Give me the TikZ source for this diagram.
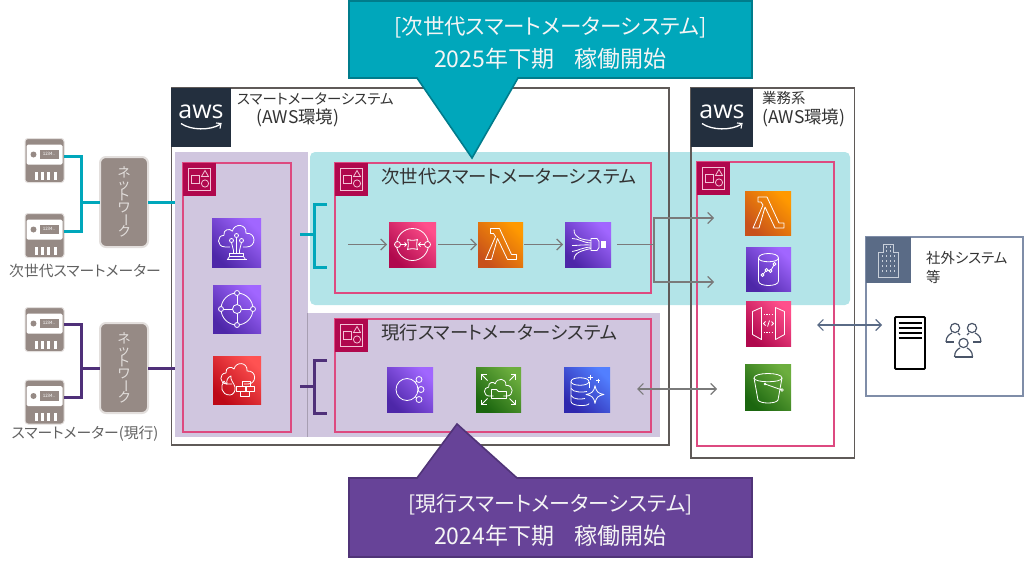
\documentclass[tikz,border=0pt]{standalone}
\usepackage{fontspec}
\setmainfont[RawFeature={+palt}]{Noto Sans CJK JP}
\newfontfamily\awsfont{Open Sans}
\usetikzlibrary{arrows.meta}
\definecolor{tealA}{HTML}{00A7BB}
\definecolor{tealB}{HTML}{007C8C}
\definecolor{tealP}{HTML}{B3E4E8}
\definecolor{purA}{HTML}{674398}
\definecolor{purB}{HTML}{503478}
\definecolor{purL}{HTML}{4F3079}
\definecolor{lav}{HTML}{D0C6DF}
\definecolor{pinkL}{HTML}{DD4A80}
\definecolor{pinkB}{HTML}{B0084D}
\definecolor{greyN}{HTML}{968A85}
\definecolor{greyE}{HTML}{E3DFDD}
\definecolor{conn}{HTML}{7A7A7A}
\definecolor{boxL}{HTML}{5F5A58}
\definecolor{awsD}{HTML}{232F3E}
\definecolor{slateB}{HTML}{7F8DA8}
\definecolor{slateH}{HTML}{5A6B86}
\definecolor{txt}{HTML}{333333}
\definecolor{vioD}{HTML}{4D27A8}\definecolor{vioL}{HTML}{A166FF}\definecolor{vioM}{HTML}{7248CC}
\definecolor{mgD}{HTML}{B0084D}\definecolor{mgL}{HTML}{FF4F8B}\definecolor{mgM}{HTML}{D62B6B}
\definecolor{orD}{HTML}{C8511B}\definecolor{orL}{HTML}{FF9900}
\definecolor{grD}{HTML}{1B660F}\definecolor{grL}{HTML}{6CAE3E}
\definecolor{rdD}{HTML}{BD0816}\definecolor{rdL}{HTML}{FF5252}
\definecolor{blD}{HTML}{2E27AD}\definecolor{blL}{HTML}{527FFF}
\definecolor{bdL}{HTML}{F3C3D6}
\definecolor{bldL}{HTML}{C8CFDA}
\definecolor{pplC}{HTML}{4A5568}
\newcommand\netlabel{ネ\\[-2.6pt]ッ\\[-2.6pt]ト\\[-2.6pt]ワ\\[-2.6pt]\rotatebox[origin=c]{-90}{ー}\\[-2.6pt]ク}
\tikzset{
  rectn/.style={rectangle,inner sep=0pt,outer sep=0pt},
  icn/.style={rectangle,inner sep=0pt,outer sep=0pt,shade},
  pinkbox/.style={rectn,draw=pinkL,line width=1.4pt},
  awsbox/.style={rectn,draw=boxL,line width=1.2pt},
  netbox/.style={rectn,rounded corners=6pt,fill=greyN,draw=greyE,line width=2pt},
  nettxt/.style={inner sep=0pt,text=greyE,align=center,font=\fontsize{13.5}{14}\selectfont},
  meterbg/.style={rectn,rounded corners=3pt,fill=greyN,draw=greyE,line width=1pt},
  wire/.style={line width=3pt},
  arr/.style={conn,line width=1.2pt,-{Straight Barb[length=5.5pt,width=11pt]}},
  arrb/.style={conn,line width=1.2pt,{Straight Barb[length=5.5pt,width=11pt]}-{Straight Barb[length=5.5pt,width=11pt]}},
  lbl/.style={inner sep=0pt,text=txt,font=\fontsize{14.4}{16}\selectfont},
  lblb/.style={inner sep=0pt,text=txt,font=\fontsize{17.5}{16}\selectfont},
  title/.style={inner sep=0pt,text=txt,font=\fontsize{18.4}{20}\selectfont},
  mlbl/.style={inner sep=0pt,text=black!62,font=\fontsize{14.8}{16}\selectfont},
  call/.style={inner sep=0pt,text=white!96!black,align=center,font=\fontsize{23}{33}\selectfont},
  gl/.style={color=white,line width=.8pt,line join=round},
  bd/.style={color=bdL,line width=.8pt},
}
% rectangle node from corners: style, name, x1,y1,x2,y2
\newcommand\rbox[6]{%
  \pgfmathsetmacro\rcx{(#3+#5)/2}\pgfmathsetmacro\rcy{(#4+#6)/2}%
  \pgfmathsetmacro\rw{#5-#3}\pgfmathsetmacro\rh{#6-#4}%
  \node[#1,minimum width=\rw pt,minimum height=\rh pt] (#2) at (\rcx,\rcy) {};}
% icon: name, x1,y1,x2,y2, dark, light, glyph
\newcommand\icon[8]{%
  \rbox{icn,bottom color=#6,top color=#7,shading angle=-45}{#1}{#2}{#3}{#4}{#5}%
  \begin{scope}[shift={(#1.center)},gl]#8\end{scope}}
\newcommand\badge[3]{%
  \rbox{rectn,fill=pinkB}{#1}{#2}{#3}{#2+33}{#3+33}%
  \begin{scope}[shift={(#1.center)},bd]
    \draw (-11,-11) rectangle (11,11);
    \draw (-8,-4) rectangle (0,4);
    \draw (2,-3) -- (5.5,-9) -- (9,-3) -- cycle;
    \draw (5.5,4) circle[radius=3.6];
  \end{scope}}
\newcommand\cloudP{(-6,8) -- (-11,8) .. controls (-19,8) and (-19,-3) .. (-12,-3) .. controls (-13,-9) and (-6,-10) .. (-4,-7) .. controls (-2,-15) and (10,-14) .. (9,-5) .. controls (19,-6) and (19,8) .. (10,8) -- (6,8)}
\newcommand\awslogo[3]{%
  \rbox{rectn,fill=awsD}{#1}{#2}{88}{#3}{147}%
  \node[inner sep=0pt,text=white,font=\fontsize{25}{25}\awsfont\selectfont] (#1t) at ([yshift=6pt]#1.center) {aws};
  \begin{scope}[shift={(#1.center)}]
    \draw[white,line width=1.3pt] (-20,6) .. controls (-10,13) and (9,13) .. (19,7);
    \draw[white,line width=1.1pt] (15,5.5) -- (20,6) -- (19,11);
  \end{scope}}
\newcommand\meter[3]{%
  \node[meterbg,minimum width=39pt,minimum height=44pt] (#1) at (#2,#3) {};
  \begin{scope}[shift={(#1.center)}]
    \fill[white,rounded corners=1.5pt] (-18,-16) rectangle (18,4);
    \fill[greyN] (-11,-6) circle[radius=3];
    \fill[greyN] (-5,-11) rectangle (14,-1.5);
    \node[inner sep=0pt,text=white,font=\fontsize{4.5}{4.5}\selectfont] (#1n) at (4.5,-6.2) {1234..};
    \foreach \bx in {-8,-2,4,11} \fill[white] (\bx-1.6,11) rectangle (\bx+1.6,19);
  \end{scope}}
\newcommand\gLambda{\draw (-10,-16) -- (-1,-16) -- (11,10) -- (16,10) -- (16,15) -- (7,15) -- (-3,-6) -- (-9,15) -- (-15,15) -- (-5,-8) -- (-7,-11) -- (-10,-11) -- cycle;}
\newcommand\gIot{\begin{scope}[shift={(0,-4)},scale=1.05]\draw \cloudP;\end{scope}
  \draw (-5,-2) circle[radius=2]; \draw (0,-7) circle[radius=2]; \draw (5,-2) circle[radius=2];
  \draw (-5,0) -- (-3,8) -- (-3,11); \draw (0,-5) -- (0,11); \draw (5,0) -- (3,8) -- (3,11);
  \draw (-7,11) rectangle (7,14); \draw (-9,17) -- (-7,14); \draw (9,17) -- (7,14); \draw (-10,17) -- (10,17);}
\newcommand\gMesh{\draw (0,0) circle[radius=16];
  \foreach \dx/\dy in {0/-16,0/16,-16/0,16/0}{\draw (0,0) -- (\dx,\dy); \filldraw[fill=vioM] (\dx,\dy) circle[radius=2.5];}
  \filldraw[fill=vioM] (0,0) circle[radius=4.5];}
\newcommand\gFire{\begin{scope}[shift={(1,-4)}]\draw \cloudP;\end{scope}
  \draw (-7,15) .. controls (-16,15) and (-17,6) .. (-13,1) .. controls (-12,4) and (-10,4) .. (-10,4) .. controls (-11,0) and (-9,-3) .. (-6,-4) .. controls (-7,0) and (-3,3) .. (-2,7) .. controls (-1,11) and (-4,15) .. (-7,15);
  \draw (5,1) rectangle (13,6); \draw (-1,6) rectangle (8,11); \draw (9,6) rectangle (17,11); \draw (3,11) rectangle (12,16);}
\newcommand\gSqs{\draw (0,0) circle[radius=16];
  \draw (-5,-5) .. controls (-3,-4) and (3,-4) .. (5,-5) .. controls (4,-3) and (4,3) .. (5,5) .. controls (3,4) and (-3,4) .. (-5,5) .. controls (-4,3) and (-4,-3) .. (-5,-5);
  \filldraw[fill=mgM] (-15,0) circle[radius=3]; \filldraw[fill=mgM] (15,0) circle[radius=3];
  \draw (-12,0) -- (-6,0); \draw (12,0) -- (6,0); \draw (-8,-2) -- (-6,0) -- (-8,2); \draw (8,-2) -- (6,0) -- (8,2);}
\newcommand\gHose{\draw (3,-6) -- (9,-6) -- (11,-3) -- (11,3) -- (9,6) -- (3,6) -- cycle;
  \fill (13,-3.5) rectangle (18,3.5);
  \draw (-14,-15) .. controls (-14,-6) and (-6,-5) .. (3,-4);
  \draw (-16,-6) .. controls (-9,-6) and (-6,-2) .. (3,-1.5);
  \draw (-16,1) .. controls (-9,1) and (-6,0) .. (3,0.5);
  \draw (-16,7) .. controls (-9,6) and (-6,3) .. (3,2.5);
  \draw (-14,15) .. controls (-14,8) and (-6,6) .. (3,4);}
\newcommand\gSns{\draw (-3,0) circle[radius=11];
  \draw (5,-7) -- (7,-8.5); \draw (5,7) -- (7,8.5);
  \draw (9,-10) circle[radius=3]; \draw (11,0) circle[radius=3]; \draw (9,10) circle[radius=3];}
\newcommand\gEfs{\begin{scope}[scale=.82]\draw \cloudP;\end{scope}
  \draw (-7,9) -- (-7,0) -- (-2,0) -- (0,2) -- (8,2) -- (8,9) -- cycle;
  \foreach \sx/\sy in {1/1,-1/1,1/-1,-1/-1}{
    \draw (\sx*11,\sy*9) -- (\sx*17,\sy*15);
    \draw (\sx*17,\sy*10) -- (\sx*17,\sy*15) -- (\sx*12,\sy*15);}}
\newcommand\gAurora{\draw (-16,-8) .. controls (-16,-13) and (2,-13) .. (2,-8) .. controls (2,-3) and (-16,-3) .. (-16,-8);
  \draw (-16,-8) -- (-16,12) .. controls (-16,17) and (2,17) .. (2,14);
  \draw (2,-8) -- (2,-2);
  \draw (-16,-1) .. controls (-14,3) and (-4,3) .. (0,2);
  \draw (-16,6) .. controls (-14,10) and (-6,10) .. (-2,9);
  \draw (8,-4) .. controls (9,2) and (11,4) .. (17,5) .. controls (11,6) and (9,8) .. (8,14) .. controls (7,8) and (5,6) .. (-1,5) .. controls (5,4) and (7,2) .. (8,-4);
  \draw (3,-15) -- (3,-10); \draw (0.5,-12.5) -- (5.5,-12.5);
  \draw (11,-11) -- (11,-7); \draw (9,-9) -- (13,-9);}
\newcommand\gStream{\draw (-10,-11) .. controls (-10,-17) and (10,-17) .. (10,-11) .. controls (10,-6) and (-10,-6) .. (-10,-11);
  \draw (-10,-11) -- (-10,12) .. controls (-10,18) and (10,18) .. (10,12) -- (10,-11);
  \draw (-6,6) -- (-2,1) -- (2,2) -- (6,-5);
  \foreach \px/\py in {-6/6,-2/1,2/2,6/-5}{\filldraw[fill=vioM] (\px,\py) circle[radius=1.5];}}
\newcommand\gApi{\draw (-16,-12) -- (-7,-16) -- (-7,16) -- (-16,11) -- cycle;
  \draw (16,-12) -- (7,-16) -- (7,16) -- (16,11) -- cycle;
  \draw[dash pattern=on 1.5pt off 1.2pt] (-5,-9) -- (5,-9); \draw[dash pattern=on 1.5pt off 1.2pt] (-5,9) -- (5,9);
  \draw (-3,-2) -- (-5,0) -- (-3,2); \draw (3,-2) -- (5,0) -- (3,2); \draw (-1,3) -- (1,-3);}
\newcommand\gBucket{\draw (-14,-9) .. controls (-14,-15) and (14,-15) .. (14,-9) .. controls (14,-4) and (-14,-4) .. (-14,-9);
  \draw (-14,-9) -- (-10,13) .. controls (-8,17) and (8,17) .. (10,13) -- (14,-9);
  \fill (-3,-3) circle[radius=1.4]; \draw (-3,-3) -- (14,3); \draw (14,3) circle[radius=1.4];}
\begin{document}
\begin{tikzpicture}[x=1pt,y=-1pt]
\useasboundingbox (0,0) rectangle (1024,565);
% panels
\rbox{rectn,fill=lav}{pL}{175}{152}{308}{437}
\rbox{rectn,fill=lav}{pC}{307}{313}{660}{437}
\draw[lav!80!black,line width=.6pt] (307.5,313) -- (307.5,437);
\rbox{rectn,fill=tealP,rounded corners=5pt}{pN}{310}{152}{850}{305}
% aws boxes
\rbox{awsbox}{b1}{171.5}{88}{669}{445}
\rbox{awsbox}{b2}{691}{88}{854.5}{458}
\rbox{rectn,draw=slateB,line width=1.4pt,fill=white}{b3}{866}{237}{1023}{396}
\rbox{rectn,fill=slateH}{b3h}{866}{237}{911}{283}
\begin{scope}[shift={(b3h.center)},color=bldL,line width=.8pt]
  \draw (-10,17) -- (-10,-8) -- (-5,-8) -- (-5,-16) -- (5,-16) -- (5,-8) -- (10,-8) -- (10,17) -- cycle;
  \foreach \wx in {-6,-2,2,6}{\foreach \wy in {-4,1,6,11}{\fill (\wx-.7,\wy-1) rectangle (\wx+.7,\wy+1);}}
  \foreach \wx in {-2,2}{\foreach \wy in {-13,-9}{\fill (\wx-.7,\wy-1) rectangle (\wx+.7,\wy+1);}}
\end{scope}
\node[lbl,anchor=west] (t7) at (926,258) {社外システム};
\node[lbl,anchor=west] (t8) at (926,277) {等};
\awslogo{a1}{171}{231}
\awslogo{a2}{691}{753}
\node[lbl,anchor=west] (t1) at (237,98.5) {スマートメーターシステム};
\node[lblb,anchor=west] (t2) at (256,117.5) {(AWS環境)};
\node[lbl,anchor=west] (t3) at (762,98.5) {業務系};
\node[lblb,anchor=west] (t4) at (762,117.5) {(AWS環境)};
% pink groups
\rbox{pinkbox}{g1}{183}{163}{291}{432}
\rbox{pinkbox}{g2}{335}{163}{651}{293}
\rbox{pinkbox}{g3}{335}{319}{651}{432}
\rbox{pinkbox}{g4}{697}{162}{834}{446}
\badge{k1}{183}{163}
\badge{k2}{335}{163}
\badge{k3}{335}{319}
\badge{k4}{697}{162}
\node[title,anchor=west] (t5) at (381,177) {次世代スマートメーターシステム};
\node[title,anchor=west] (t6) at (381,333) {現行スマートメーターシステム};
% meters and networks
\meter{m1}{44.5}{160.5}
\meter{m2}{44.5}{235.5}
\meter{m3}{44.5}{329.5}
\meter{m4}{44.5}{402}
\node[mlbl] (l1) at (85,271) {次世代スマートメーター};
\node[mlbl] (l2) at (85,434) {スマートメーター(現行)};
\rbox{netbox}{n1}{100}{157}{148}{247}
\node[nettxt] (n1t) at (n1.center) {\netlabel};
\rbox{netbox}{n2}{100}{323}{148}{413}
\node[nettxt] (n2t) at (n2.center) {\netlabel};
\coordinate (j1) at (81,202);
\coordinate (j2) at (81,368);
\coordinate (e1) at (175,202);
\coordinate (e2) at (175,368);
\draw[wire,tealA] ([yshift=4.5pt]m1.east) -| (j1) |- ([yshift=4.5pt]m2.east);
\draw[wire,tealA] (j1) -- (n1.west);
\draw[wire,tealA] (n1.east) -- (e1);
\draw[wire,purL] ([yshift=5.5pt]m3.east) -| (j2) |- ([yshift=5pt]m4.east);
\draw[wire,purL] (j2) -- (n2.west);
\draw[wire,purL] (n2.east) -- (e2);
% brackets
\coordinate (bt1) at (327,204); \coordinate (bt2) at (327,267); \coordinate (bts) at (300,234);
\coordinate (bp1) at (327,360); \coordinate (bp2) at (327,413); \coordinate (bps) at (300,386);
\draw[wire,tealA] (bt1) -- (314,204) -- (314,267) -- (bt2);
\draw[wire,tealA] (bts) -- (314,234);
\draw[wire,purL] (bp1) -- (314,360) -- (314,413) -- (bp2);
\draw[wire,purL] (bps) -- (314,386);
% icons
\icon{i1}{212}{218}{261}{267}{vioD}{vioL}{\gIot}
\icon{i2}{213}{285}{261}{333}{vioD}{vioL}{\gMesh}
\icon{i3}{213}{356}{261}{404}{rdD}{rdL}{\gFire}
\icon{i4}{389}{222}{436}{267}{mgD}{mgL}{\gSqs}
\icon{i5}{478}{222}{523}{267}{orD}{orL}{\gLambda}
\icon{i6}{565}{222}{611}{267}{vioD}{vioL}{\gHose}
\icon{i7}{387}{367}{433}{412}{vioD}{vioL}{\gSns}
\icon{i8}{476}{367}{521}{412}{grD}{grL}{\gEfs}
\icon{i9}{564}{367}{610}{412}{blD}{blL}{\gAurora}
\icon{i10}{745}{191}{791}{235}{orD}{orL}{\gLambda}
\icon{i11}{746}{247}{791}{291}{vioD}{vioL}{\gStream}
\icon{i12}{746}{301}{791}{346}{mgD}{mgL}{\gApi}
\icon{i13}{745}{364}{791}{410}{grD}{grL}{\gBucket}
% server and people
\rbox{rectn,draw=black,line width=1.8pt,fill=white,rounded corners=1pt}{srv}{895}{317}{925}{369}
\foreach \sy in {323,328,333,338}{\draw[black,line width=1.4pt] (898.5,\sy) -- (921.5,\sy);}
\begin{scope}[color=pplC,line width=1.2pt]
  \draw (955,328) circle[radius=4.6];
  \draw (972,328) circle[radius=4.6];
  \draw (946,342) .. controls (946,336) and (950,334) .. (952,333);
  \draw (981,342) .. controls (981,336) and (977,334) .. (975,333);
  \draw (946,342) -- (954,342); \draw (973,342) -- (981,342);
  \draw (958,333) -- (960,335); \draw (969,333) -- (967,335);
  \draw (963.5,343) circle[radius=4.6];
  \draw (954.5,357) .. controls (954.5,351) and (958,349) .. (960,348) ;
  \draw (972.5,357) .. controls (972.5,351) and (969,349) .. (967,348);
  \draw (954.5,357) -- (972.5,357);
\end{scope}
% grey connectors
\coordinate (q1) at (348,244.5);
\coordinate (fb) at (654,244.5);
\coordinate (fa) at (714,218);
\coordinate (fc) at (714,282);
\coordinate (d1) at (637,389);
\coordinate (d2) at (717,389);
\coordinate (x1) at (817,325);
\coordinate (x2) at (882,325);
\draw[arr,shorten >=2pt] (q1) -- (i4.west);
\draw[arr,shorten <=2pt,shorten >=1pt] (i4.east) -- (i5.west);
\draw[arr,shorten <=1pt,shorten >=2pt] (i5.east) -- (i6.west);
\draw[conn,line width=1.2pt,shorten <=6pt] (i6.east) -- (fb);
\draw[arr] (fb) |- (fa);
\draw[arr] (fb) |- (fc);
\draw[arrb] (d1) -- (d2);
\draw[arrb,color=slateH] (x1) -- (x2);
% callouts
\draw[fill=tealA,draw=tealB,line width=1.6pt,line join=miter] (349,1) -- (752,1) -- (752,78) -- (518,78) -- (472,158) -- (417,78) -- (349,78) -- cycle;
\node[call] (c1) at (550.5,43) {\fontsize{21.5}{33}\selectfont [次世代スマートメーターシステム]\\\fontsize{23}{33}\selectfont 2025年下期\ \ \ \ 稼働開始};
\draw[fill=purA,draw=purB,line width=1.6pt,line join=miter] (349,478) -- (417,478) -- (457,424) -- (517,478) -- (752,478) -- (752,557) -- (349,557) -- cycle;
\node[call] (c2) at (550.5,520) {\fontsize{21}{33}\selectfont [現行スマートメーターシステム]\\\fontsize{23}{33}\selectfont 2024年下期\ \ \ \ 稼働開始};
\end{tikzpicture}
\end{document}
